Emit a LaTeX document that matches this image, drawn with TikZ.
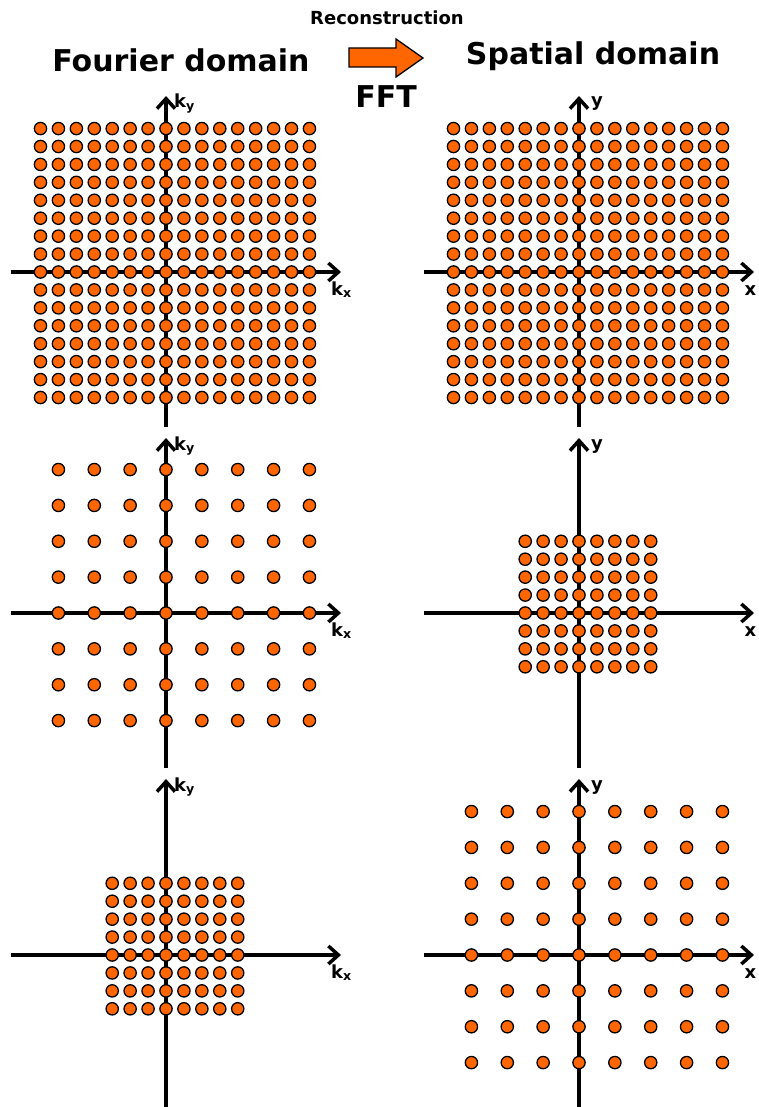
\documentclass[tikz,border=0pt]{standalone}
\usepackage{fontspec}
\setmainfont{DejaVu Sans}
\usetikzlibrary{arrows.meta}

\definecolor{dotorange}{HTML}{FF6600}

\tikzset{
  dot/.style={circle, fill=dotorange, draw=black, line width=1.3pt,
              minimum size=12.3pt, inner sep=0pt},
  axis/.style={line width=3.8pt, -{Straight Barb[length=10pt, width=18pt, line width=3.5pt]}},
  axlabel/.style={font=\fontsize{18}{20}\selectfont\bfseries, inner sep=0pt},
  title/.style={font=\fontsize{30}{34}\selectfont\bfseries, inner sep=0pt}
}

\begin{document}
\begin{tikzpicture}[x=1pt, y=-1pt]
    \useasboundingbox (0,0) rectangle (758,1107);

    % Titel und FFT-Pfeil
    \node[title] (fourier) at (181,60) {Fourier domain};
    \node[title] (spatial) at (593,56) {Spatial domain};
    \node[font=\fontsize{18}{20}\selectfont\bfseries, inner sep=0pt] (recon) at (387,18) {Reconstruction};
    \node[title] (fft) at (386,97) {FFT};
    \draw[fill=dotorange, line width=1.3pt]
         (349,48) -- (396,48) -- (396,39) -- (423,58) -- (396,77) -- (396,67) -- (349,67) -- cycle;

    % Achsen, links (k-Raum)
    \foreach \cy/\top/\bot [count=\n] in {272/96/427, 613/438/768, 955/779/1110} {
      \draw[axis] (11,\cy) -- (341,\cy);
      \draw[axis] (166,\bot) -- (166,\top);
      \node[axlabel, anchor=base west] (kx\n) at (331,\cy+23) {k\textsubscript{x}};
      \node[axlabel, anchor=base west] (ky\n) at (174,\top+12) {k\textsubscript{y}};
    }

    % Achsen, rechts (Bildraum)
    \foreach \cy/\top/\bot [count=\n] in {272/96/427, 613/438/768, 955/779/1110} {
      \draw[axis] (424,\cy) -- (754,\cy);
      \draw[axis] (579,\bot) -- (579,\top);
      \node[axlabel, anchor=base east] (x\n) at (756.5,\cy+23) {x};
      \node[axlabel, anchor=base west] (y\n) at (591,\top+11) {y};
    }

    % Volle Abtastung: 16 x 16 Punkte
    \foreach \i [count=\ci] in {-7,...,8} {
      \foreach \j [count=\cj] in {-8,...,7} {
        \node[dot] (fa-\ci-\cj) at (166+17.93*\i, 272+17.93*\j) {};
        \node[dot] (sa-\ci-\cj) at (579+17.93*\i, 272+17.93*\j) {};
      }
    }

    % Grober Abstand in k -> kleines Bild
    \foreach \i [count=\ci] in {-3,...,4} {
      \foreach \j [count=\cj] in {-4,...,3} {
        \node[dot] (fb-\ci-\cj) at (166+35.86*\i, 613+35.86*\j) {};
        \node[dot] (sb-\ci-\cj) at (579+17.93*\i, 613+17.93*\j) {};
      }
    }

    % Kleines k-Fenster -> grobe Pixel
    \foreach \i [count=\ci] in {-3,...,4} {
      \foreach \j [count=\cj] in {-4,...,3} {
        \node[dot] (fc-\ci-\cj) at (166+17.93*\i, 955+17.93*\j) {};
        \node[dot] (sc-\ci-\cj) at (579+35.86*\i, 955+35.86*\j) {};
      }
    }
\end{tikzpicture}
\end{document}
